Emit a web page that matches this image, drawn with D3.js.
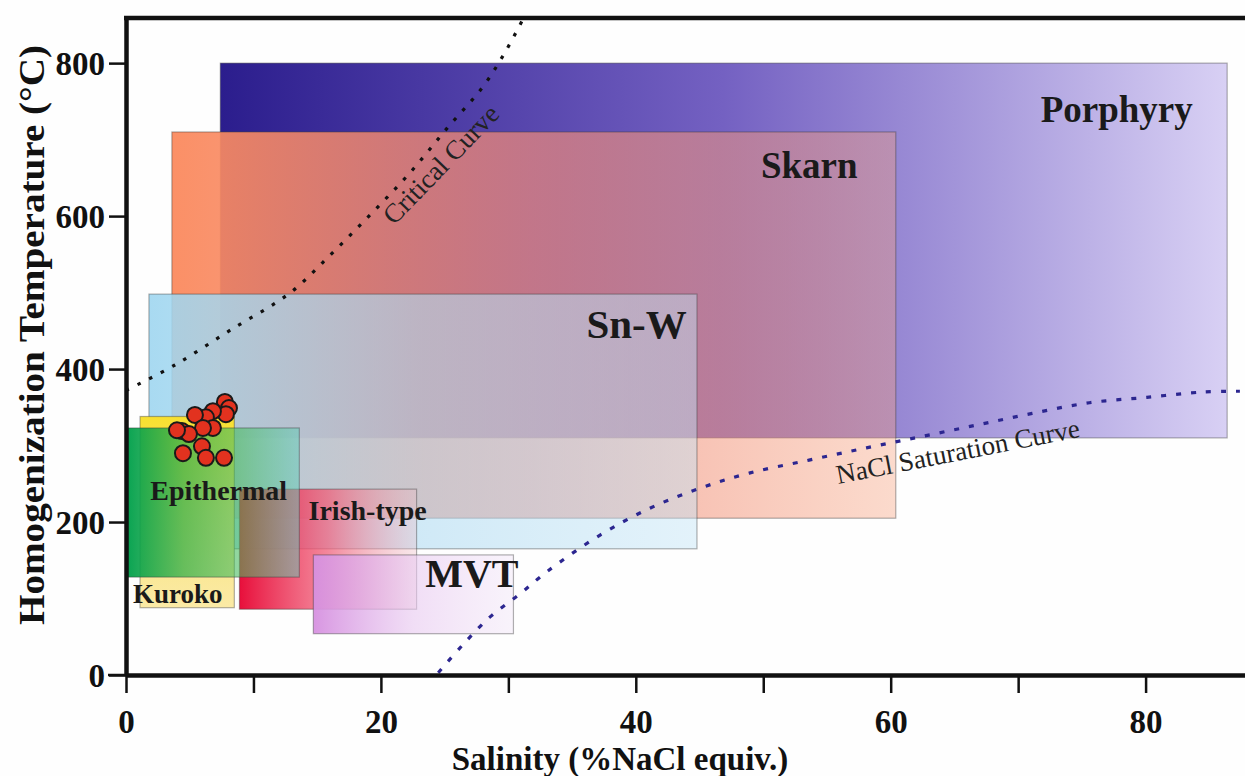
<!DOCTYPE html>
<html>
<head>
<meta charset="utf-8">
<script src="https://cdn.jsdelivr.net/npm/d3@7"></script>
<style>
  html, body { margin: 0; padding: 0; background: #fefefe; }
  svg { display: block; }
  text { font-family: "Liberation Serif", "Times New Roman", serif; }
</style>
</head>
<body>
<svg id="chart" width="1245" height="776"></svg>
<script>
// ---------- DATA ----------
const boxNames   = ["Porphyry", "Skarn", "Sn-W", "Kuroko", "Irish-type", "Epithermal", "MVT"];
const boxSalMin  = [7.4, 3.6, 1.8, 1.1, 8.9, 0.0, 14.7];
const boxSalMax  = [86.4, 60.4, 44.8, 8.5, 22.8, 13.6, 30.4];
const boxTMin    = [310, 205, 165, 88, 86, 128, 54];
const boxTMax    = [800, 710, 498, 338, 243, 323, 157];

// label anchors (data units)
const labelSal   = [83.7, 57.4, 44.0, 0.55, 23.6, 1.9, 30.8];
const labelT     = [723, 650, 441, 94, 203, 229, 115];

// fluid inclusion data (salinity wt% NaCl eq., Th °C)
const ptSalinity = [7.76, 8.08, 7.84, 6.82, 6.27, 5.41, 6.82, 6.04, 4.39, 4.94, 5.96, 4.47, 6.27, 7.69, 4.0];
const ptTemp     = [357, 349, 341, 345, 337, 340, 323, 323, 319, 315, 299, 290, 284, 284, 320];

// Critical curve
const critSal  = [0, 3.8, 8.2, 12.9, 16.2, 19.3, 22.3, 25.2, 28.0, 29.7, 31.1];
const critT    = [372, 405, 451, 500, 552, 604, 657, 715, 769, 813, 856];

// NaCl saturation curve
const satSal = [24.5, 26.4, 28.5, 30.9, 33.1, 37.2, 41.1, 45.0, 48.9, 53.6, 58.1, 62.5, 66.8, 71.1, 75.6, 80.1, 84.5, 87.4];
const satT   = [3, 39, 75, 106, 136, 183, 218, 244, 264, 281, 297, 312, 327, 342, 356, 363, 370, 371];

const yTicks = [0, 200, 400, 600, 800];
const xTicks = [0, 10, 20, 30, 40, 50, 60, 70, 80];
const xTickLabels = [0, 20, 40, 60, 80];

// ---------- STYLE ----------
const boxGrad = {
  "Porphyry":   [["#2b1d8d", 1], ["#7461c2", 1], ["#d8d0f4", 1]],
  "Skarn":      [["#fb8a5e", 0.95], ["#ef8a7a", 0.7], ["#f7a07c", 0.38]],
  "Sn-W":       [["#9fd6f0", 0.9], ["#b2dcf2", 0.6], ["#c2e4f6", 0.45]],
  "Kuroko":     [["#f8e030", 1], ["#f8e47a", 1], ["#fbeaa6", 1]],
  "Irish-type": [["#e80f3b", 1], ["#f0607a", 0.75], ["#eebdc6", 0.35]],
  "Epithermal": [["#00a04c", 0.97], ["#28ac44", 0.7], ["#48bc60", 0.58], ["#60ccb8", 0.5]],
  "MVT":        [["#d690e0", 0.95], ["#e8c8f0", 0.6], ["#f2e6f8", 0.45]]
};

const W = 1245, H = 776;
const svg = d3.select("#chart");
svg.append("rect").attr("width", W).attr("height", H).attr("fill", "#fefefe");

const x = d3.scaleLinear().domain([0, 87.8]).range([126, 1245]);
const y = d3.scaleLinear().domain([0, 859]).range([675, 18]);

const defs = svg.append("defs");
boxNames.forEach((n, i) => {
  const g = defs.append("linearGradient").attr("id", "g" + i)
    .attr("x1", 0).attr("y1", 0)
    .attr("x2", (n === "Kuroko") ? 0 : 1).attr("y2", (n === "Kuroko") ? 1 : 0);
  const stops = boxGrad[n];
  stops.forEach((s, k) => {
    g.append("stop").attr("offset", k / (stops.length - 1))
      .attr("stop-color", s[0]).attr("stop-opacity", s[1]);
  });
});
defs.append("clipPath").attr("id", "plotclip")
  .append("rect").attr("x", 126).attr("y", 18).attr("width", W - 126).attr("height", 675 - 18);

// boxes
const boxG = svg.append("g");
boxNames.forEach((n, i) => {
  boxG.append("rect")
    .attr("x", x(boxSalMin[i]))
    .attr("y", y(boxTMax[i]))
    .attr("width", x(boxSalMax[i]) - x(boxSalMin[i]))
    .attr("height", y(boxTMin[i]) - y(boxTMax[i]))
    .attr("fill", `url(#g${i})`)
    .attr("stroke", "#3a3a3a")
    .attr("stroke-opacity", 0.4)
    .attr("stroke-width", 1.2);
});

// curves
const lineGen = d3.line().x(d => x(d[0])).y(d => y(d[1])).curve(d3.curveCatmullRom.alpha(0.5));
const curveG = svg.append("g").attr("clip-path", "url(#plotclip)");
curveG.append("path")
  .attr("d", lineGen(critSal.map((s, i) => [s, critT[i]])))
  .attr("fill", "none").attr("stroke", "#111").attr("stroke-width", 3.2)
  .attr("stroke-dasharray", "3.5,9.5");
curveG.append("path")
  .attr("d", lineGen(satSal.map((s, i) => [s, satT[i]])))
  .attr("fill", "none").attr("stroke", "#2c2690").attr("stroke-width", 3.2)
  .attr("stroke-dasharray", "5,10");

// points
svg.append("g").selectAll("circle")
  .data(ptSalinity.map((s, i) => [s, ptTemp[i]]))
  .join("circle")
  .attr("cx", d => x(d[0])).attr("cy", d => y(d[1])).attr("r", 8)
  .attr("fill", "#e2321f").attr("stroke", "#1a1a1a").attr("stroke-width", 2);

// box labels
const labelSize = { "Porphyry": 37, "Skarn": 37, "Sn-W": 41, "Kuroko": 27, "Irish-type": 28, "Epithermal": 28, "MVT": 40 };
const labelAnchor = { "Porphyry": "end", "Skarn": "end", "Sn-W": "end", "Kuroko": "start", "Irish-type": "end", "Epithermal": "start", "MVT": "end" };
svg.append("g").selectAll("text")
  .data(boxNames)
  .join("text")
  .attr("x", (d, i) => x(labelSal[i]))
  .attr("y", (d, i) => y(labelT[i]))
  .attr("text-anchor", d => labelAnchor[d])
  .attr("font-weight", "bold")
  .attr("font-size", d => labelSize[d])
  .attr("fill", "#1a1a1a")
  .text(d => d);

// curve labels
svg.append("text")
  .attr("transform", `translate(394,226) rotate(-46)`)
  .attr("font-size", 27).attr("fill", "#222")
  .text("Critical Curve");
svg.append("text")
  .attr("transform", `translate(838,484) rotate(-11)`)
  .attr("font-size", 27).attr("fill", "#222")
  .text("NaCl Saturation Curve");

// axes
const yAxis = d3.axisLeft(y).tickValues(yTicks).tickSize(17).tickSizeOuter(0).tickPadding(4).tickFormat(d3.format("d"));
const xAxis = d3.axisBottom(x).tickValues(xTicks).tickSize(18).tickSizeOuter(0).tickPadding(10)
  .tickFormat(d => xTickLabels.includes(d) ? d : "");

const gy = svg.append("g").attr("transform", "translate(126,0)").call(yAxis);
const gx = svg.append("g").attr("transform", "translate(0,675)").call(xAxis);
[gx, gy].forEach(g => {
  g.select(".domain").attr("stroke", "#111").attr("stroke-width", 4.5);
  g.selectAll(".tick line").attr("stroke", "#111").attr("stroke-width", 2.5);
  g.selectAll(".tick text").attr("fill", "#111").attr("font-size", 33).attr("font-weight", "bold")
    .attr("font-family", "Liberation Serif, serif");
});
gx.selectAll(".tick text").attr("dy", "0.9em");
gy.selectAll(".tick text").attr("dy", "0.34em");

// top frame
svg.append("line").attr("x1", 124).attr("x2", W).attr("y1", 18).attr("y2", 18)
  .attr("stroke", "#111").attr("stroke-width", 4.5);
svg.append("line").attr("x1", 108).attr("x2", 126).attr("y1", 675).attr("y2", 675)
  .attr("stroke", "#111").attr("stroke-width", 2.5);

// axis titles
svg.append("text")
  .attr("transform", "translate(44,335) rotate(-90)")
  .attr("text-anchor", "middle").attr("font-weight", "bold").attr("font-size", 36)
  .attr("textLength", 580).attr("lengthAdjust", "spacingAndGlyphs")
  .attr("fill", "#111")
  .text("Homogenization Temperature (°C)");
svg.append("text")
  .attr("x", 620).attr("y", 770)
  .attr("text-anchor", "middle").attr("font-weight", "bold").attr("font-size", 33)
  .attr("fill", "#111")
  .text("Salinity (%NaCl equiv.)");
</script>
</body>
</html>
